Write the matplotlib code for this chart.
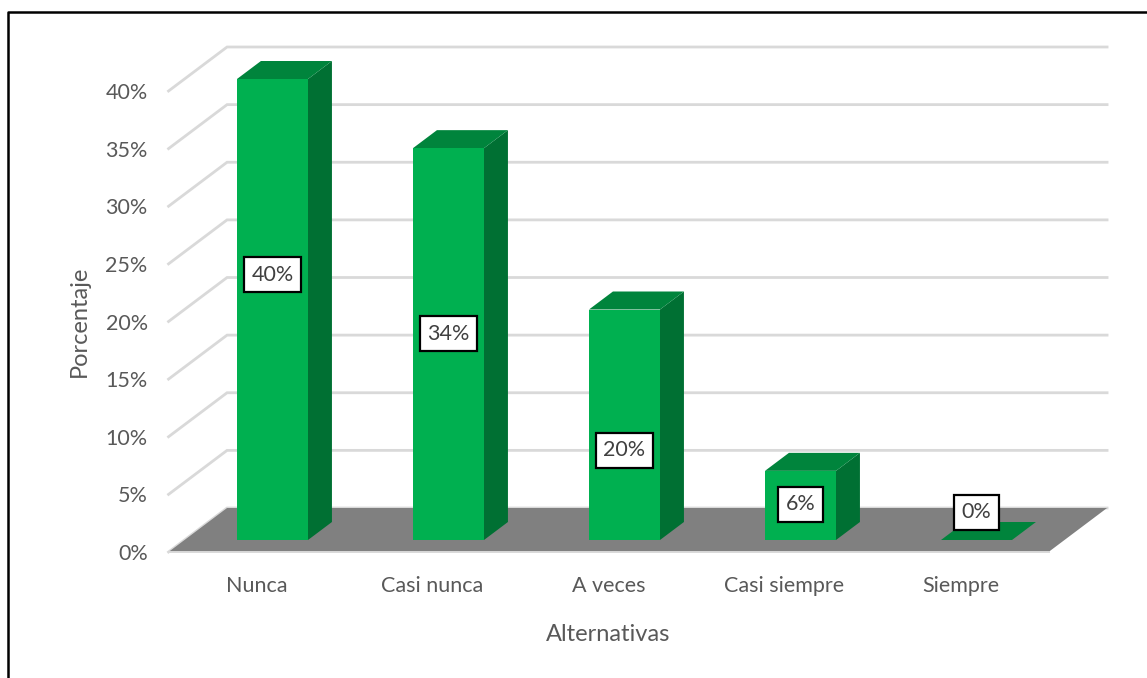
import matplotlib.pyplot as plt
from matplotlib.patches import Polygon, Rectangle
from matplotlib.lines import Line2D

categories = ["Nunca", "Casi nunca", "A veces", "Casi siempre", "Siempre"]
porcentajes = [40, 34, 20, 6, 0]
ticks = [0, 5, 10, 15, 20, 25, 30, 35, 40]

plt.rcParams['font.family'] = ['Lato', 'DejaVu Sans']

W, H = 1147, 678
fig = plt.figure(figsize=(W / 100, H / 100), dpi=100)

# axes placed so one category = 176 px and 40 % = 461 px
px_cat, px_pct = 176.0, 461.0 / 40
ax = fig.add_axes([184.5 / W, 138 / H, 880 / W, 461 / H])
ax.set_xlim(-0.5, 4.5)
ax.set_ylim(0, 40)
ax.axis("off")

slant = 1.33  # horizontal shift per pixel of depth


def pt(x, v, d):
    # oblique projection: depth d (pixels) moves up and to the right
    return (x + slant * d / px_cat, v + d / px_pct)


d_front, d_bar, d_bar_back, d_wall = -12, 0, 18, 32
x0, x1 = -0.5, 4.5
grid_c = "#d9d9d9"

# gridlines on back and side walls
for t in ticks:
    xs, ys = zip(pt(x0, t, d_front), pt(x0, t, d_wall), pt(x1, t, d_wall))
    ax.add_line(Line2D(xs, ys, color=grid_c, lw=2.0, clip_on=False, zorder=1,
                       solid_joinstyle="miter"))

# floor
floor = [pt(x0, 0, d_front), pt(x1, 0, d_front), pt(x1, 0, d_wall), pt(x0, 0, d_wall)]
ax.add_patch(Polygon(floor, closed=True, facecolor="#808080", edgecolor="none",
                     clip_on=False, zorder=2))
xs, ys = zip(pt(x0, 0, d_front), pt(x1, 0, d_front))
ax.add_line(Line2D(xs, ys, color=grid_c, lw=1.4, clip_on=False, zorder=2))

# bars
w = 71 / px_cat
c_front, c_top, c_side = "#00b050", "#00843c", "#007033"
for i, v in enumerate(porcentajes):
    l, r = i - w / 2, i + w / 2
    side = [pt(r, 0, d_bar), pt(r, 0, d_bar_back), pt(r, v, d_bar_back), pt(r, v, d_bar)]
    top = [pt(l, v, d_bar), pt(r, v, d_bar), pt(r, v, d_bar_back), pt(l, v, d_bar_back)]
    ax.add_patch(Polygon(side, closed=True, facecolor=c_side, edgecolor="none",
                         clip_on=False, zorder=3))
    ax.add_patch(Polygon(top, closed=True, facecolor=c_top, edgecolor="none",
                         clip_on=False, zorder=3))
    if v > 0:
        ax.add_patch(Rectangle((l, 0), w, v, facecolor=c_front, edgecolor="none",
                               clip_on=False, zorder=3))

# data labels
label_pos = [23.0, 17.9, 7.8, 3.1, 2.4]
for i, v in enumerate(porcentajes):
    ax.text(i, label_pos[i], f"{v}%", ha="center", va="center", fontsize=15.5,
            color="#404040", zorder=5,
            bbox=dict(boxstyle="square,pad=0.35", facecolor="white",
                      edgecolor="black", linewidth=1.6))

# y tick labels at the front ends of the gridlines
for t in ticks:
    ax.annotate(f"{t}%", xy=pt(x0, t, d_front), xytext=(-15, 0),
                textcoords="offset points", ha="right", va="center_baseline",
                fontsize=15.5, color="#595959", annotation_clip=False)

# category labels below the front edge of the floor
for i, c in enumerate(categories):
    ax.annotate(c, xy=pt(i, 0, d_front), xytext=(0, -23),
                textcoords="offset points", ha="center", va="center_baseline",
                fontsize=15.5, color="#595959", annotation_clip=False)

ax.annotate("Alternativas", xy=pt(2, 0, d_front), xytext=(0, -58),
            textcoords="offset points", ha="center", va="center_baseline",
            fontsize=17, color="#595959", annotation_clip=False)
ax.annotate("Porcentaje", xy=pt(x0, 20, d_front), xytext=(-64, 0),
            textcoords="offset points", ha="center", va="center", rotation=90,
            fontsize=17, color="#595959", annotation_clip=False)

# outer frame (top and left edges)
fig.add_artist(Line2D([8 / W, 8 / W, 1], [0, 1 - 12 / H, 1 - 12 / H],
                      transform=fig.transFigure, color="black", lw=1.8))

fig.savefig("out.png", dpi=100)
